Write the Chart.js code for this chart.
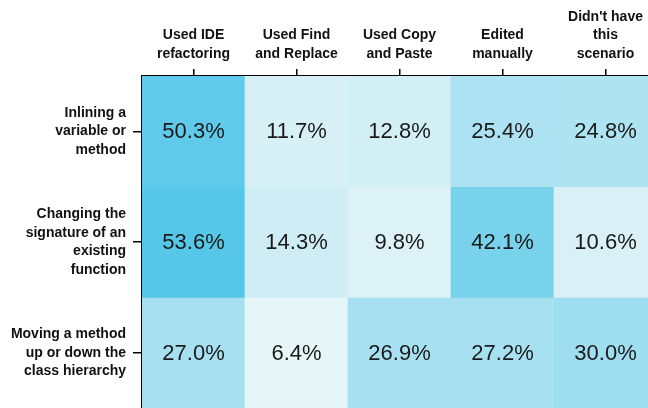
<!DOCTYPE html>
<html>
<head>
<meta charset="utf-8">
<script src="https://cdn.jsdelivr.net/npm/chart.js@4/dist/chart.umd.min.js"></script>
<style>
  html, body { margin: 0; padding: 0; background: #ffffff; overflow: hidden; width: 648px; height: 408px; }
  canvas { display: block; }
</style>
</head>
<body>
<canvas id="c" width="657" height="408"></canvas>
<script>
// ---- data ----
const columnLabels = [
  ["Used IDE", "refactoring"],
  ["Used Find", "and Replace"],
  ["Used Copy", "and Paste"],
  ["Edited", "manually"],
  ["Didn't have", "this", "scenario"]
];
const rowLabels = [
  ["Inlining a", "variable or", "method"],
  ["Changing the", "signature of an", "existing", "function"],
  ["Moving a method", "up or down the", "class hierarchy"]
];
const inliningValues  = [50.3, 11.7, 12.8, 25.4, 24.8];
const signatureValues = [53.6, 14.3,  9.8, 42.1, 10.6];
const movingValues    = [27.0,  6.4, 26.9, 27.2, 30.0];
const rowValues = [inliningValues, signatureValues, movingValues];

// ---- colour scale ----
const lowColor = [230, 245, 247];
const highColor = [86, 199, 233];
const allVals = rowValues.flat();
const vMin = Math.min(...allVals), vMax = Math.max(...allVals);
function colorFor(v) {
  const t = (v - vMin) / (vMax - vMin);
  const c = lowColor.map((l, i) => Math.round(l + (highColor[i] - l) * t));
  return `rgb(${c[0]},${c[1]},${c[2]})`;
}

const FONT = "'Liberation Sans', Arial, Helvetica, sans-serif";

const datasets = rowValues.map((vals, r) => ({
  label: rowLabels[r].join(' '),
  data: vals.map(() => [r, r + 1]),
  cellValues: vals,
  backgroundColor: vals.map(colorFor),
  borderWidth: 0,
  barPercentage: 1,
  categoryPercentage: 1,
  grouped: false
}));

const cellLabels = {
  id: 'cellLabels',
  afterDatasetsDraw(chart) {
    const ctx = chart.ctx;
    ctx.save();
    ctx.font = `22px ${FONT}`;
    ctx.fillStyle = '#1a1a1a';
    ctx.textAlign = 'center';
    ctx.textBaseline = 'middle';
    chart.data.datasets.forEach((ds, di) => {
      chart.getDatasetMeta(di).data.forEach((el, i) => {
        const y = (el.y + el.base) / 2;
        ctx.fillText(ds.cellValues[i].toFixed(1) + '%', el.x, y + 1);
      });
    });
    ctx.restore();
  }
};

new Chart(document.getElementById('c'), {
  type: 'bar',
  data: { labels: columnLabels, datasets },
  options: {
    responsive: false,
    animation: false,
    devicePixelRatio: 1,
    events: [],
    layout: { padding: 0 },
    plugins: { legend: { display: false }, tooltip: { enabled: false } },
    scales: {
      x: {
        position: 'top',
        offset: true,
        grid: { offset: false, drawOnChartArea: false, drawTicks: true, tickLength: 7, color: '#000', lineWidth: 1.5 },
        border: { display: true, color: '#000', width: 1.5 },
        ticks: { color: '#111', font: { family: FONT, size: 14, weight: 'bold', lineHeight: 1.32 }, padding: 6, maxRotation: 0, autoSkip: false },
        afterFit(s) { s.height = 76; s.paddingLeft = 0; s.paddingRight = 0; }
      },
      y: {
        type: 'linear',
        reverse: true,
        min: 0,
        max: 3,
        grid: { drawOnChartArea: false, drawTicks: true, tickLength: 9, color: '#000', lineWidth: 1.5 },
        border: { display: true, color: '#000', width: 1.5 },
        afterBuildTicks(s) { s.ticks = [0.5, 1.5, 2.5].map(v => ({ value: v })); },
        ticks: {
          color: '#111',
          font: { family: FONT, size: 14, weight: 'bold', lineHeight: 1.32 },
          padding: 7,
          autoSkip: false,
          callback: (v, i) => rowLabels[i]
        },
        afterFit(s) { s.width = 142; s.paddingTop = 0; s.paddingBottom = 0; }
      }
    }
  },
  plugins: [cellLabels]
});
</script>
</body>
</html>
